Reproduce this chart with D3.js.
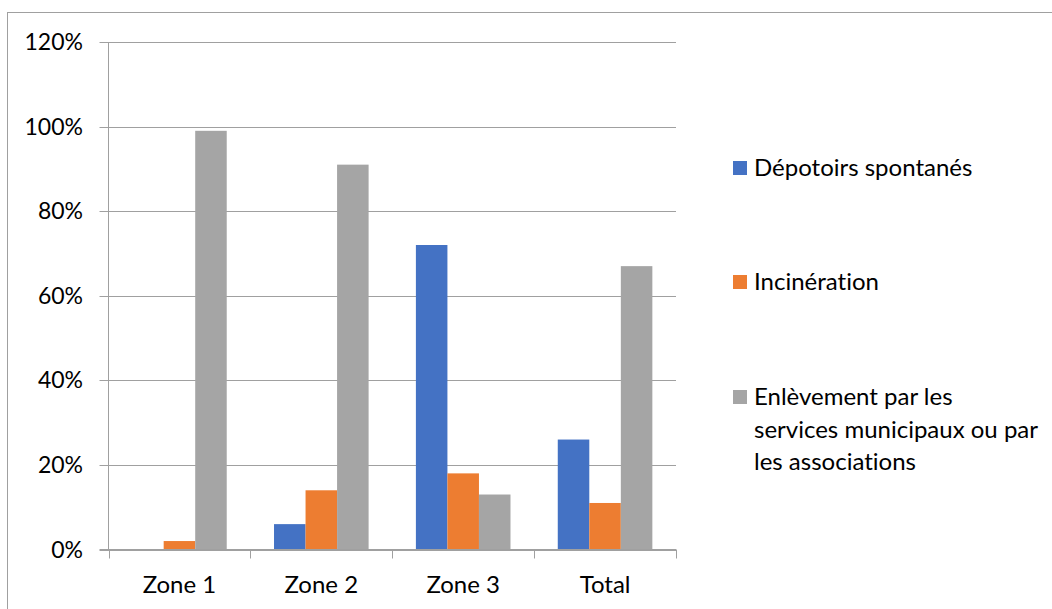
<!DOCTYPE html>
<html><head><meta charset="utf-8">
<script src="https://cdn.jsdelivr.net/npm/d3@7"></script>
<style>
html,body{margin:0;padding:0;background:#fff;}
svg{display:block;font-family:Lato, "Open Sans", sans-serif;font-variant-ligatures:none;}
</style></head>
<body>
<svg id="chart" width="1052" height="609"></svg>
<script>
const categories = ["Zone 1", "Zone 2", "Zone 3", "Total"];
const seriesNames = ["Dépotoirs spontanés", "Incinération", "Enlèvement par les services municipaux ou par les associations"];
const depotoirs = [0, 0.06, 0.72, 0.26];
const incineration = [0.02, 0.14, 0.18, 0.11];
const enlevement = [0.99, 0.91, 0.13, 0.67];
const yTicks = [0, 0.2, 0.4, 0.6, 0.8, 1.0, 1.2];
const colors = ["#4472C4", "#ED7D31", "#A5A5A5"];
const legendLines = [["Dépotoirs spontanés"], ["Incinération"], ["Enlèvement par les", "services municipaux ou par", "les associations"]];

const series = [depotoirs, incineration, enlevement];
const svg = d3.select("#chart");

// outer frame
svg.append("rect").attr("x", 7.5).attr("y", 12.5).attr("width", 1100).attr("height", 700)
  .attr("fill", "none").attr("stroke", "#a0a0a0").attr("stroke-width", 1);

const pLeft = 108.5, pRight = 676, pTop = 42, pBottom = 549.5;
const y = d3.scaleLinear().domain([0, 1.2]).range([pBottom, pTop]);
const x0 = d3.scaleBand().domain(categories).range([pLeft, pRight]).paddingInner(0).paddingOuter(0);
const x1 = d3.scaleBand().domain(d3.range(3)).range([0, x0.bandwidth()]).paddingInner(0).paddingOuter(0.75);

// gridlines
svg.append("g").selectAll("line").data(yTicks).join("line")
  .attr("x1", pLeft - 9).attr("x2", pRight)
  .attr("y1", d => Math.round(y(d)) + 0.5).attr("y2", d => Math.round(y(d)) + 0.5)
  .attr("stroke", "#a0a0a0").attr("stroke-width", 1);

// y labels
svg.append("g").selectAll("text").data(yTicks).join("text")
  .attr("x", 83).attr("y", d => y(d)).attr("dy", "0.35em")
  .attr("text-anchor", "end").attr("font-size", 23).attr("fill", "#000")
  .text(d => d3.format(".0%")(d));

// y axis line
svg.append("line").attr("x1", pLeft).attr("x2", pLeft).attr("y1", pTop).attr("y2", pBottom)
  .attr("stroke", "#a0a0a0");

// bars
const g = svg.append("g");
categories.forEach((c, i) => {
  series.forEach((s, k) => {
    g.append("rect")
      .attr("x", x0(c) + x1(k))
      .attr("y", y(s[i]))
      .attr("width", x1.bandwidth())
      .attr("height", pBottom - y(s[i]))
      .attr("fill", colors[k]);
  });
});

// x axis line and ticks
svg.append("line").attr("x1", pLeft - 9).attr("x2", pRight).attr("y1", pBottom).attr("y2", pBottom)
  .attr("stroke", "#a0a0a0");
const tickXs = categories.map(c => x0(c)).concat([pRight]);
svg.append("g").selectAll("line").data(tickXs).join("line")
  .attr("x1", d => Math.round(d) + 0.5).attr("x2", d => Math.round(d) + 0.5)
  .attr("y1", pBottom).attr("y2", pBottom + 9).attr("stroke", "#a0a0a0");

// x labels
svg.append("g").selectAll("text").data(categories).join("text")
  .attr("x", d => x0(d) + x0.bandwidth() / 2).attr("y", 593)
  .attr("text-anchor", "middle").attr("font-size", 24).attr("fill", "#000")
  .text(d => d);

// legend
const legY = [168, 282, 397];
legendLines.forEach((lines, k) => {
  svg.append("rect").attr("x", 733).attr("y", legY[k] - 7).attr("width", 14).attr("height", 14).attr("fill", colors[k]);
  lines.forEach((t, j) => {
    svg.append("text").attr("x", 754).attr("y", legY[k] + j * 32.5).attr("dy", "0.35em")
      .attr("font-size", 24).attr("fill", "#000").text(t);
  });
});
</script>
</body></html>
